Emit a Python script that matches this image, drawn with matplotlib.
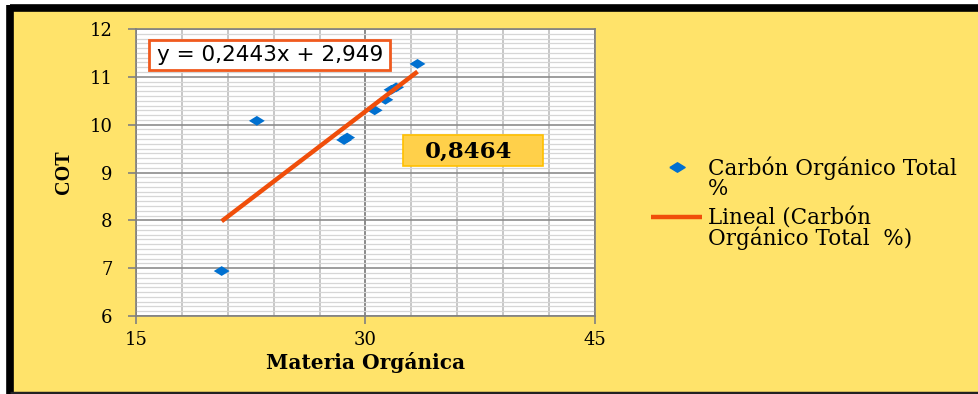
import numpy as np
import matplotlib
matplotlib.use("Agg")
import matplotlib.pyplot as plt
from matplotlib.ticker import MultipleLocator
from matplotlib.patches import Rectangle
from matplotlib.lines import Line2D

# datos
materia_organica = [20.6, 22.9, 28.6, 28.8, 30.6, 31.3, 31.7, 32.0, 33.4]
cot = [6.94, 10.08, 9.68, 9.73, 10.30, 10.52, 10.73, 10.78, 11.27]
pendiente = 0.2443
intercepto = 2.949
r2_texto = "0,8464"
ecuacion = "y = 0,2443x + 2,949"
x_ticks = [15, 30, 45]
y_ticks = [6, 7, 8, 9, 10, 11, 12]
leyenda = ["Carbón Orgánico Total\n%", "Lineal (Carbón\nOrgánico Total  %)"]

amarillo = "#FFE36A"
azul = "#0070D0"
naranja = "#F04E0A"
serif = "DejaVu Serif"
rombo = [(-1, 0), (0, 0.62), (1, 0), (0, -0.62), (-1, 0)]  # rombo ancho como en Excel

W, H = 979, 394
fig = plt.figure(figsize=(W / 100, H / 100), dpi=100, facecolor="white")

def fx(px):
    return px / W

def fy(py):
    return 1 - py / H

# marco amarillo con borde negro (arriba, izquierda y abajo)
fig.add_artist(Rectangle((fx(10), 0), 1, fy(8), transform=fig.transFigure,
                         facecolor=amarillo, edgecolor="none", zorder=0))
fig.add_artist(Line2D([fx(10), 1], [fy(7.5)] * 2, transform=fig.transFigure,
                      color="black", lw=5.5, solid_capstyle="butt", zorder=1))
fig.add_artist(Line2D([fx(10)] * 2, [0, fy(5)], transform=fig.transFigure,
                      color="black", lw=5.5, solid_capstyle="butt", zorder=1))
fig.add_artist(Line2D([fx(10), 1], [fy(392.5)] * 2, transform=fig.transFigure,
                      color="#222222", lw=2.5, solid_capstyle="butt", zorder=1))

ax = fig.add_axes([fx(136), fy(316), fx(459), 287 / H])
ax.set_zorder(2)
ax.set_facecolor("white")
ax.set_xlim(15, 45)
ax.set_ylim(6, 12)
ax.xaxis.set_minor_locator(MultipleLocator(3))
ax.yaxis.set_minor_locator(MultipleLocator(0.1))
ax.set_xticks(x_ticks)
ax.set_yticks(y_ticks)

ax.grid(which="minor", axis="y", color="#D6D6D6", lw=0.9)
ax.grid(which="minor", axis="x", color="#BDBDBD", lw=1.2)
ax.grid(which="major", axis="y", color="#8C8C8C", lw=1.2)
ax.grid(which="major", axis="x", color="#808080", lw=1.3)
ax.set_axisbelow(True)
for s in ["left", "bottom", "right", "top"]:
    ax.spines[s].set_color("#808080")
    ax.spines[s].set_linewidth(1.2)
ax.tick_params(which="minor", length=0)
ax.tick_params(which="major", length=6, color="#808080", width=1.2, labelsize=13)
ax.tick_params(axis="x", pad=5)
ax.tick_params(axis="y", pad=11)
for lab in ax.get_xticklabels() + ax.get_yticklabels():
    lab.set_fontfamily(serif)

# serie y linea de tendencia
ax.scatter(materia_organica, cot, marker=rombo, s=130, color=azul, zorder=3,
           edgecolors="none")
xs = np.array([min(materia_organica), max(materia_organica)])
ax.plot(xs, pendiente * xs + intercepto, color=naranja, lw=3.2, zorder=4,
        solid_capstyle="butt")

ax.set_xlabel("Materia Orgánica", fontfamily=serif, fontweight="bold",
              fontsize=14.5, labelpad=2)
ax.set_ylabel("COT", fontfamily="Liberation Serif", fontweight="bold",
              fontsize=14.5, labelpad=11)

# cuadro de la ecuacion
fig.add_artist(Rectangle((fx(149), fy(70)), fx(241), 30 / H, transform=fig.transFigure,
                         facecolor="white", edgecolor="#F05A1E", lw=2, zorder=5))
fig.text(fx(270), fy(55), ecuacion, ha="center", va="center", fontsize=15.5,
         fontfamily="DejaVu Sans", zorder=6)

# cuadro del R2
fig.add_artist(Rectangle((fx(403), fy(166)), fx(140), 31 / H, transform=fig.transFigure,
                         facecolor="#FFD04A", edgecolor="#FFC000", lw=1.2, zorder=5))
fig.text(fx(469), fy(152), r2_texto, ha="center", va="center", fontsize=16.5,
         fontfamily=serif, fontweight="bold", zorder=6)

# leyenda al estilo Excel (simbolo alineado con la primera linea)
fig.add_artist(Line2D([fx(677)], [fy(167)], transform=fig.transFigure, marker=rombo,
                      color=azul, markersize=11, ls="none", zorder=3))
fig.add_artist(Line2D([fx(651), fx(702)], [fy(216.5)] * 2, transform=fig.transFigure,
                      color=naranja, lw=3.2, zorder=3, solid_capstyle="butt"))
for texto, y0 in zip(leyenda, [157, 207]):
    fig.text(fx(708), fy(y0), texto, ha="left", va="top", fontsize=15.5,
             fontfamily=serif, linespacing=0.88, zorder=3)

fig.savefig("out.png", dpi=100, facecolor="white")
